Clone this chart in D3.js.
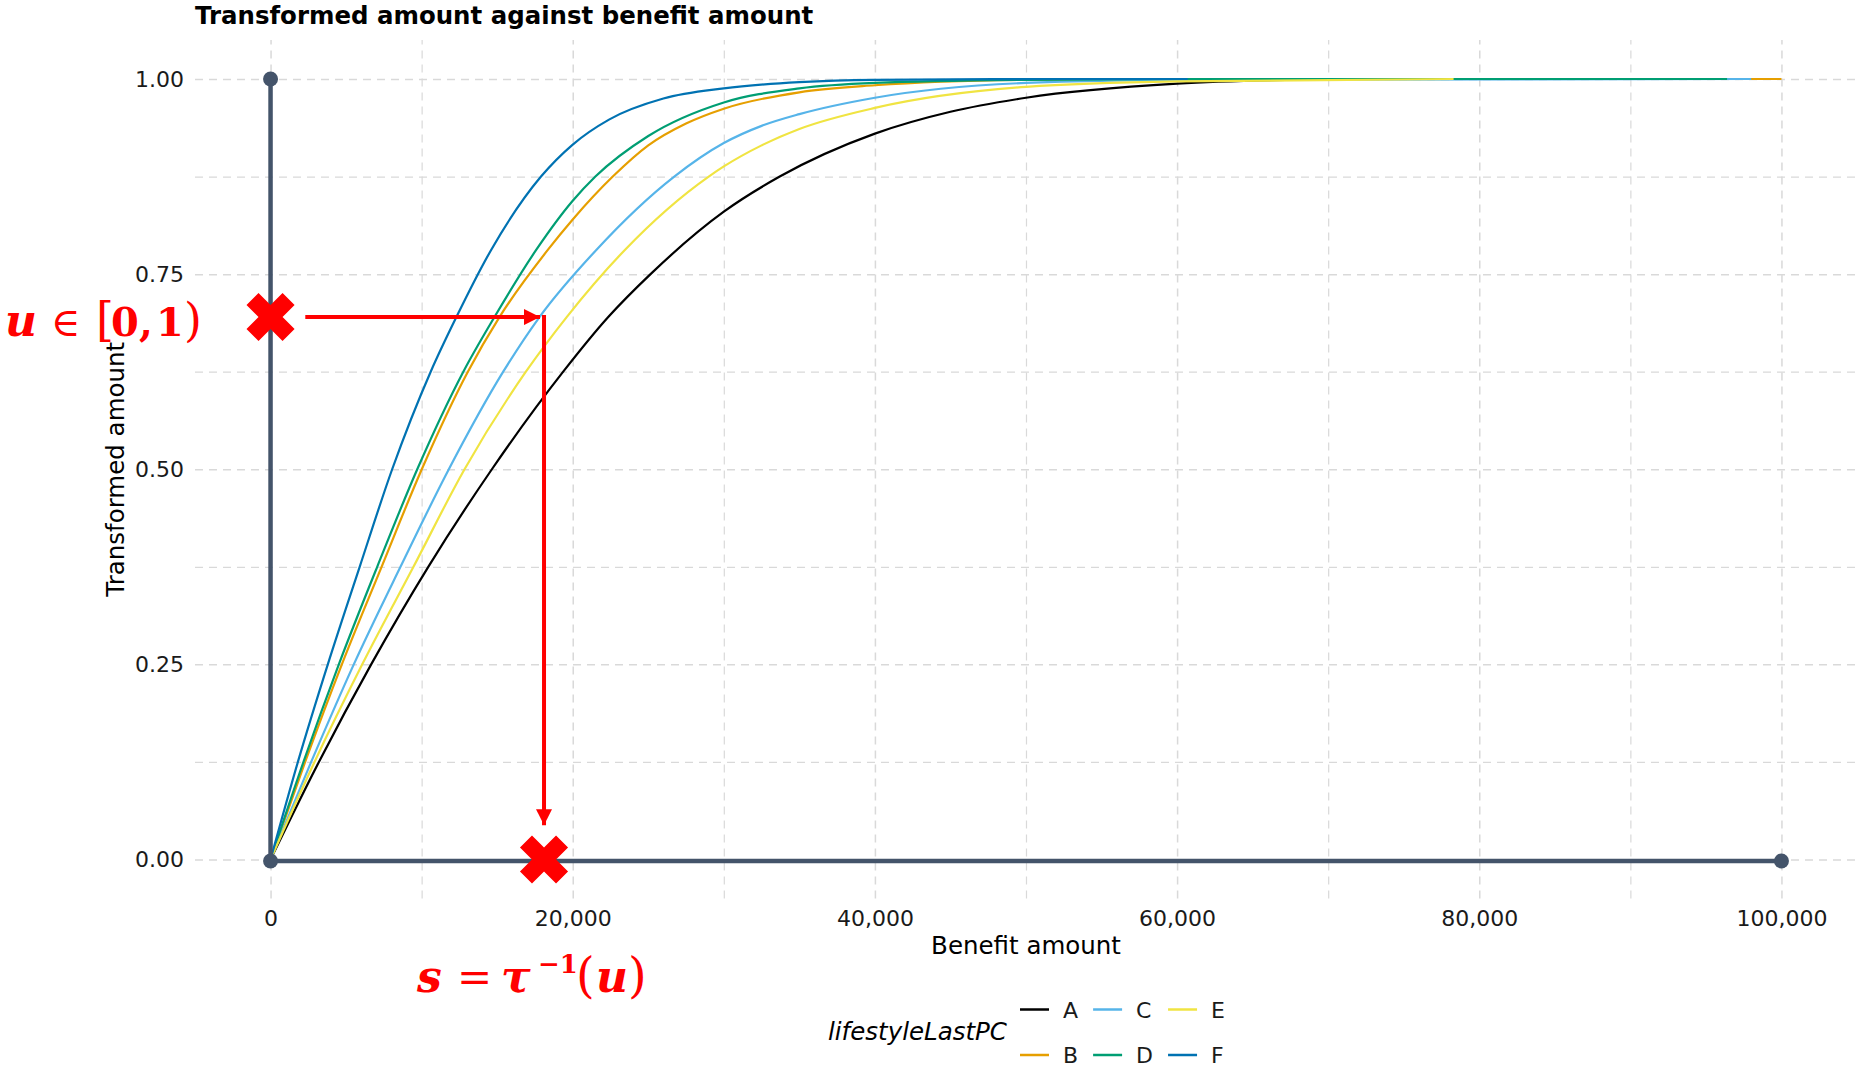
<!DOCTYPE html>
<html>
<head>
<meta charset="utf-8">
<script src="https://cdn.jsdelivr.net/npm/d3@7"></script>
<style>
  body { margin: 0; background: #ffffff; }
  svg { display: block; }
</style>
</head>
<body>
<svg id="chart" width="1857" height="1067"></svg>
<script>
// ---- data -------------------------------------------------------------
const groups = ["A", "B", "C", "D", "E", "F"];
const groupColors = ["#000000", "#E69F00", "#56B4E9", "#009E73", "#F0E442", "#0072B2"];

// [benefit amount, transformed amount] for each lifestyle group
const seriesA = [[0,0],[3200,0.125],[6660,0.25],[10440,0.375],[14650,0.5],[19370,0.625],[22350,0.695],[25150,0.75],[30000,0.83],[33700,0.875],[40000,0.93],[45000,0.958],[50000,0.976],[60000,0.994],[70500,1.0]];
const seriesB = [[0,0],[2290,0.125],[4720,0.25],[7350,0.375],[10010,0.5],[13060,0.625],[15150,0.695],[18350,0.781],[20000,0.82],[22650,0.875],[25000,0.915],[27500,0.943],[30000,0.962],[35000,0.983],[40000,0.992],[50000,0.999],[60000,1.0],[100000,1.0]];
const seriesC = [[0,0],[2690,0.125],[5510,0.25],[8600,0.375],[11800,0.5],[15400,0.625],[17800,0.695],[21560,0.781],[26720,0.875],[30000,0.918],[32500,0.94],[35000,0.955],[40000,0.976],[50000,0.995],[60000,0.999],[98000,1.0]];
const seriesD = [[0,0],[2180,0.125],[4520,0.25],[7060,0.375],[9710,0.5],[12760,0.625],[14820,0.695],[17580,0.781],[20000,0.844],[21500,0.875],[25000,0.927],[30000,0.970],[35000,0.988],[40000,0.995],[50000,0.999],[60000,1.0],[96400,1.0]];
const seriesE = [[0,0],[2910,0.125],[6070,0.25],[9460,0.375],[12840,0.5],[16900,0.625],[19600,0.695],[23450,0.781],[29000,0.875],[30000,0.888],[32500,0.915],[35000,0.936],[40000,0.963],[50000,0.99],[60000,0.997],[78300,1.0]];
const seriesF = [[0,0],[1810,0.125],[3790,0.25],[5900,0.375],[8050,0.5],[10600,0.625],[12300,0.695],[14600,0.781],[17900,0.875],[20000,0.916],[22400,0.948],[26000,0.975],[30000,0.988],[35000,0.996],[40000,0.999],[50000,1.0],[60700,1.0]];

const xTicks = [0, 20000, 40000, 60000, 80000, 100000];
const xMinorTicks = [10000, 30000, 50000, 70000, 90000];
const yTicks = [0, 0.25, 0.5, 0.75, 1];
const yMinorTicks = [0.125, 0.375, 0.625, 0.875];

// range of benefit amounts and of the unit interval, drawn as thick segments
const benefitRange = [0, 100000];
const unitRange = [0, 1];

// worked example: a uniform draw u mapped back through group C
const exampleU = 0.695;
const exampleS = 18100;
const arrowStartX = 2300;   // benefit amount where the horizontal arrow starts
const arrowEndY = 0.044;    // transformed amount where the vertical arrow stops

// ---- layout -----------------------------------------------------------
const panel = { left: 195, right: 1857, top: 40, bottom: 898.5 };

const svg = d3.select("#chart");

const x = d3.scaleLinear().domain([-5000, 105000]).range([panel.left, panel.right]);
const y = d3.scaleLinear().domain([-0.05, 1.05]).range([panel.bottom, panel.top]);

const gridColor = "#d9d9d9";
const dark = "#44546A";
const red = "#FF0000";

// ---- grid -------------------------------------------------------------
const grid = svg.append("g").attr("class", "grid");

function vGrid(values, width) {
  grid.append("g")
    .attr("transform", `translate(0,${panel.bottom})`)
    .call(d3.axisBottom(x).tickValues(values).tickSize(-(panel.bottom - panel.top)).tickFormat(""))
    .call(g => g.select(".domain").remove())
    .call(g => g.selectAll("line").attr("stroke", gridColor).attr("stroke-width", width).attr("stroke-dasharray", "8,6"));
}
function hGrid(values, width) {
  grid.append("g")
    .attr("transform", `translate(${panel.left},0)`)
    .call(d3.axisLeft(y).tickValues(values).tickSize(-(panel.right - panel.left)).tickFormat(""))
    .call(g => g.select(".domain").remove())
    .call(g => g.selectAll("line").attr("stroke", gridColor).attr("stroke-width", width).attr("stroke-dasharray", "8,6"));
}
vGrid(xMinorTicks, 1.2);
hGrid(yMinorTicks, 1.2);
vGrid(xTicks, 1.5);
hGrid(yTicks, 1.5);

// ---- axes labels ------------------------------------------------------
const fmt = d3.format(",");
svg.append("g")
  .attr("transform", `translate(0,${panel.bottom})`)
  .call(d3.axisBottom(x).tickValues(xTicks).tickSize(0).tickPadding(12).tickFormat(fmt))
  .call(g => g.select(".domain").remove())
  .call(g => g.selectAll("text").attr("font-family", "DejaVu Sans").attr("font-size", 22).attr("fill", "#1a1a1a"));

svg.append("g")
  .attr("transform", `translate(${panel.left},0)`)
  .call(d3.axisLeft(y).tickValues(yTicks).tickSize(0).tickPadding(11).tickFormat(d3.format(".2f")))
  .call(g => g.select(".domain").remove())
  .call(g => g.selectAll("text").attr("font-family", "DejaVu Sans").attr("font-size", 22).attr("fill", "#1a1a1a"));

svg.append("text")
  .attr("x", (x(0) + x(100000)) / 2).attr("y", 954)
  .attr("text-anchor", "middle")
  .attr("font-family", "DejaVu Sans").attr("font-size", 24.5).attr("fill", "#000")
  .text("Benefit amount");

svg.append("text")
  .attr("transform", `translate(124,${(panel.top + panel.bottom) / 2}) rotate(-90)`)
  .attr("text-anchor", "middle")
  .attr("font-family", "DejaVu Sans").attr("font-size", 24.5).attr("fill", "#000")
  .text("Transformed amount");

svg.append("text")
  .attr("x", panel.left).attr("y", 24)
  .attr("font-family", "DejaVu Sans").attr("font-weight", "bold").attr("font-size", 24.45).attr("fill", "#000")
  .text("Transformed amount against benefit amount");

// ---- curves -----------------------------------------------------------
const allSeries = [seriesA, seriesB, seriesC, seriesD, seriesE, seriesF];
const line = d3.line().x(d => x(d[0])).y(d => y(d[1])).curve(d3.curveMonotoneX);

svg.append("g").attr("class", "curves")
  .selectAll("path")
  .data(allSeries)
  .join("path")
  .attr("d", line)
  .attr("fill", "none")
  .attr("stroke", (d, i) => groupColors[i])
  .attr("stroke-width", 2.2);

// ---- unit interval and benefit range segments -------------------------
const seg = svg.append("g").attr("class", "segments");
seg.append("line")
  .attr("x1", x(0)).attr("x2", x(0))
  .attr("y1", y(unitRange[0])).attr("y2", y(unitRange[1]))
  .attr("stroke", dark).attr("stroke-width", 4.5);
seg.append("line")
  .attr("x1", x(benefitRange[0])).attr("x2", x(benefitRange[1]))
  .attr("y1", y(0) + 1.5).attr("y2", y(0) + 1.5)
  .attr("stroke", dark).attr("stroke-width", 4.5);
const endPoints = [[0, unitRange[1]], [0, unitRange[0]], [benefitRange[1], 0]];
seg.selectAll("circle")
  .data(endPoints)
  .join("circle")
  .attr("cx", d => x(d[0]))
  .attr("cy", d => y(d[1]) + (d[1] === 0 ? 1.5 : 0))
  .attr("r", 7.5)
  .attr("fill", dark);

// ---- worked example ---------------------------------------------------
const defs = svg.append("defs");
defs.append("marker")
  .attr("id", "head").attr("markerUnits", "userSpaceOnUse")
  .attr("viewBox", "0 0 16 16").attr("refX", 16).attr("refY", 8)
  .attr("markerWidth", 16).attr("markerHeight", 16).attr("orient", "auto")
  .append("path").attr("d", "M0,0 L16,8 L0,16 Z").attr("fill", red);

const ann = svg.append("g").attr("class", "example");
ann.append("line")
  .attr("x1", x(arrowStartX)).attr("y1", y(exampleU))
  .attr("x2", x(exampleS) - 4).attr("y2", y(exampleU))
  .attr("stroke", red).attr("stroke-width", 4)
  .attr("marker-end", "url(#head)");
ann.append("line")
  .attr("x1", x(exampleS)).attr("y1", y(exampleU) - 2)
  .attr("x2", x(exampleS)).attr("y2", y(arrowEndY))
  .attr("stroke", red).attr("stroke-width", 4)
  .attr("marker-end", "url(#head)");

const cross = d3.symbol(d3.symbolCross, 1445);
ann.selectAll("path.cross")
  .data([[0, exampleU], [exampleS, 0]])
  .join("path")
  .attr("class", "cross")
  .attr("d", cross)
  .attr("transform", d => `translate(${x(d[0])},${y(d[1])}) rotate(45)`)
  .attr("fill", red);

// u ∈ [0,1)
const uText = ann.append("text")
  .attr("y", 336)
  .attr("font-family", "DejaVu Serif").attr("font-size", 40).attr("fill", red);
uText.append("tspan").attr("x", 5).attr("font-size", 44).attr("font-style", "italic").attr("font-weight", "bold").text("u");
uText.append("tspan").attr("x", 51).text("\u2208");
uText.append("tspan").attr("x", 96).attr("font-size", 46).text("[");
uText.append("tspan").attr("x", 111).attr("font-weight", "bold").text("0");
uText.append("tspan").attr("x", 139).attr("font-weight", "bold").text(",");
uText.append("tspan").attr("x", 156).attr("font-weight", "bold").text("1");
uText.append("tspan").attr("x", 184).attr("font-size", 46).text(")");

// s = τ⁻¹(u)
const sText = ann.append("text")
  .attr("y", 992)
  .attr("font-family", "DejaVu Serif").attr("font-size", 42).attr("fill", red);
sText.append("tspan").attr("x", 417).attr("font-size", 44).attr("font-style", "italic").attr("font-weight", "bold").text("s");
sText.append("tspan").attr("x", 457).text("=");
sText.append("tspan").attr("x", 501).attr("font-size", 44).attr("font-style", "italic").attr("font-weight", "bold").text("\u03C4");
sText.append("tspan").attr("x", 538).attr("dy", -19).attr("font-size", 26).attr("font-weight", "bold").text("\u22121");
sText.append("tspan").attr("x", 576).attr("dy", 19).attr("font-size", 48).text("(");
sText.append("tspan").attr("x", 596).attr("font-size", 44).attr("font-style", "italic").attr("font-weight", "bold").text("u");
sText.append("tspan").attr("x", 628).attr("font-size", 48).text(")");

// ---- legend -----------------------------------------------------------
const legend = svg.append("g").attr("class", "legend");
legend.append("text")
  .attr("x", 828).attr("y", 1040)
  .attr("font-family", "DejaVu Sans").attr("font-style", "italic").attr("font-size", 24.5).attr("fill", "#000")
  .text("lifestyleLastPC");

const rowY = [1009.5, 1055];
const keyLen = 29;
let colX = 1020;
for (let c = 0; c < 3; c++) {
  const items = [groups[c * 2], groups[c * 2 + 1]];
  let maxW = 0;
  items.forEach((g, r) => {
    const i = groups.indexOf(g);
    legend.append("line")
      .attr("x1", colX).attr("x2", colX + keyLen)
      .attr("y1", rowY[r]).attr("y2", rowY[r])
      .attr("stroke", groupColors[i]).attr("stroke-width", 2.5);
    const t = legend.append("text")
      .attr("x", colX + keyLen + 14).attr("y", rowY[r] + 8)
      .attr("font-family", "DejaVu Sans").attr("font-size", 22).attr("fill", "#1a1a1a")
      .text(g);
    maxW = Math.max(maxW, t.node().getComputedTextLength());
  });
  colX += keyLen + 14 + maxW + 15;
}
</script>
</body>
</html>
